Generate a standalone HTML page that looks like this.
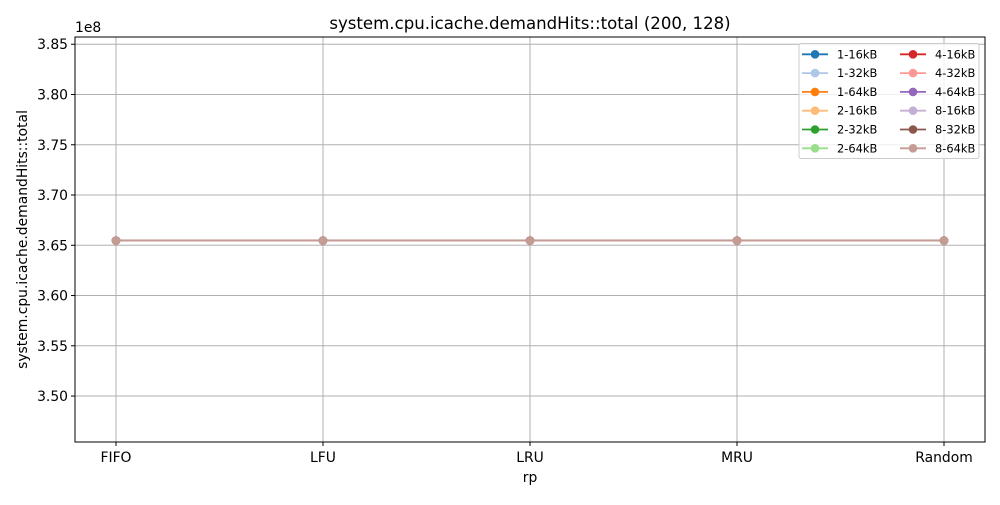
<!DOCTYPE html>
<html><head><meta charset="utf-8"><style>
body{margin:0;background:#fff;font-family:"Liberation Sans","DejaVu Sans",sans-serif;}
svg text{font-family:"DejaVu Sans","Liberation Sans",sans-serif;}
</style></head><body>
<svg id="c" width="1000" height="500" xmlns="http://www.w3.org/2000/svg"></svg>
<script>
const categories = ["FIFO","LFU","LRU","MRU","Random"];
const seriesNames = ["1-16kB","1-32kB","1-64kB","2-16kB","2-32kB","2-64kB","4-16kB","4-32kB","4-64kB","8-16kB","8-32kB","8-64kB"];
const seriesValues = [
 [3.6547,3.6547,3.6547,3.6547,3.6547],
 [3.6547,3.6547,3.6547,3.6547,3.6547],
 [3.6547,3.6547,3.6547,3.6547,3.6547],
 [3.6547,3.6547,3.6547,3.6547,3.6547],
 [3.6547,3.6547,3.6547,3.6547,3.6547],
 [3.6547,3.6547,3.6547,3.6547,3.6547],
 [3.6547,3.6547,3.6547,3.6547,3.6547],
 [3.6547,3.6547,3.6547,3.6547,3.6547],
 [3.6547,3.6547,3.6547,3.6547,3.6547],
 [3.6547,3.6547,3.6547,3.6547,3.6547],
 [3.6547,3.6547,3.6547,3.6547,3.6547],
 [3.6547,3.6547,3.6547,3.6547,3.6547]
];
const yTicks = [3.50,3.55,3.60,3.65,3.70,3.75,3.80,3.85];
const colors = ["#1f77b4","#aec7e8","#ff7f0e","#ffbb78","#2ca02c","#98df8a","#d62728","#ff9896","#9467bd","#c5b0d5","#8c564b","#c49c94"];
const svg = document.getElementById('c');
const NS = "http://www.w3.org/2000/svg";
const L=75,R=985,T=37,B=442, yMin=3.4543, yMax=3.8572;
const FS=13.9;
const x = i => 116 + i*(944-116)/(categories.length-1);
const y = v => B - (v-yMin)/(yMax-yMin)*(B-T);
function el(tag, attrs, parent){const e=document.createElementNS(NS,tag);for(const k in attrs)e.setAttribute(k,attrs[k]);(parent||svg).appendChild(e);return e;}
const grid = el('g',{});


categories.forEach((c,i)=>{
  el('line',{x1:x(i),x2:x(i),y1:T,y2:B,stroke:'#b0b0b0','stroke-width':1},grid);
  el('line',{x1:x(i),x2:x(i),y1:B,y2:B+4,stroke:'#000','stroke-width':1},grid);
  const t=el('text',{x:x(i),y:B+20,'text-anchor':'middle','font-size':FS,fill:'#000'});
  t.textContent=c;
  
  
});
yTicks.forEach(v=>{
  el('line',{x1:L,x2:R,y1:y(v),y2:y(v),stroke:'#b0b0b0','stroke-width':1},grid);
  el('line',{x1:L-4,x2:L,y1:y(v),y2:y(v),stroke:'#000','stroke-width':1},grid);
  const t=el('text',{x:L-7,y:y(v)+5,'text-anchor':'end','font-size':FS,fill:'#000'});
  t.textContent=v.toFixed(2);
  
  
});
seriesValues.forEach((vals,s)=>{
  const g=el('g',{});
  
  
  el('polyline',{points:vals.map((v,i)=>x(i)+','+y(v)).join(' '),fill:'none',stroke:colors[s],'stroke-width':1.8},g);
  vals.forEach((v,i)=>{
    const c=el('circle',{cx:x(i),cy:y(v),r:4.3,fill:colors[s]},g);
    
    
  });
});
const frame=el('rect',{x:L,y:T,width:R-L,height:B-T,fill:'none',stroke:'#000','stroke-width':1});


const title=el('text',{x:(L+R)/2,y:29,'text-anchor':'middle','font-size':16.6,fill:'#000'});
title.textContent='system.cpu.icache.demandHits::total (200, 128)';


const xt=el('text',{x:(L+R)/2,y:482,'text-anchor':'middle','font-size':FS,fill:'#000'});
xt.textContent='rp';


const yt=el('text',{x:0,y:0,'text-anchor':'middle','font-size':FS,fill:'#000',transform:'translate(27,'+((T+B)/2)+') rotate(-90)'});
yt.textContent='system.cpu.icache.demandHits::total';


const off=el('text',{x:L,y:32,'font-size':FS,fill:'#000'});
off.textContent='1e8';


const lg=el('g',{});


el('rect',{x:799,y:43.5,width:180,height:115,rx:2,fill:'#fff','fill-opacity':0.8,stroke:'#ccc','stroke-width':1},lg);
seriesNames.forEach((n,s)=>{
  const col=Math.floor(s/6), row=s%6;
  const lx=col?900:802, ly=54.3+row*18.8;
  const e=el('g',{},lg);
  
  
  el('line',{x1:lx,x2:lx+26,y1:ly,y2:ly,stroke:colors[s],'stroke-width':1.8},e);
  el('circle',{cx:lx+13,cy:ly,r:4.3,fill:colors[s]},e);
  const t=el('text',{x:lx+35,y:ly+4,'font-size':11.4,fill:'#000'},e);
  t.textContent=n;
});
</script>
</body></html>
